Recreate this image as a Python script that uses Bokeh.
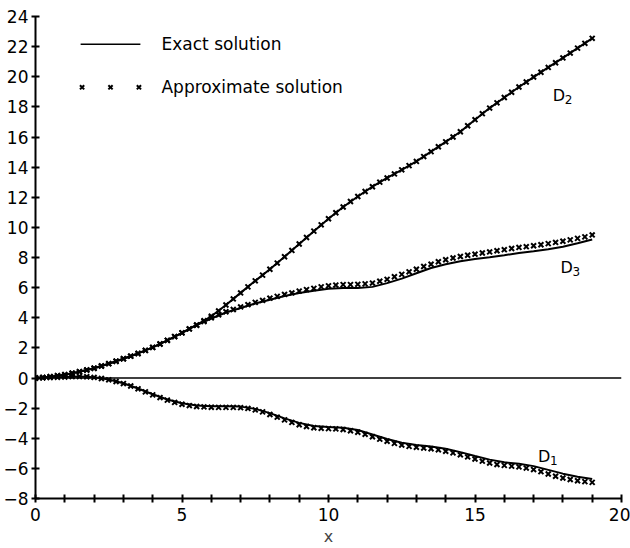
import numpy as np
from bokeh.plotting import figure
from bokeh.models import Range1d, FixedTicker, Span, Label
from bokeh.embed import file_html
from bokeh.resources import INLINE

# ---- data ----
X_EXACT = np.arange(0, 19.001, 0.5)
X_APPROX = np.arange(0, 19.001, 0.25)

D1_EXACT = [0, 0.03, 0.07, 0.1, 0.05, -0.1, -0.35, -0.7, -1.08, -1.43,
            -1.68, -1.83, -1.88, -1.88, -1.9, -2.05, -2.33, -2.68, -2.98, -3.18,
            -3.25, -3.3, -3.45, -3.75, -4.05, -4.3, -4.45, -4.55, -4.7, -4.92,
            -5.18, -5.42, -5.6, -5.7, -5.85, -6.1, -6.35, -6.55, -6.7]
D2_EXACT = [0, 0.08, 0.22, 0.42, 0.65, 0.95, 1.28, 1.63, 2.03, 2.5,
            3.0, 3.52, 4.1, 4.85, 5.65, 6.45, 7.22, 8.05, 8.9, 9.75,
            10.57, 11.35, 12.05, 12.7, 13.28, 13.82, 14.38, 15.03, 15.68, 16.35,
            17.15, 17.92, 18.62, 19.32, 19.98, 20.62, 21.25, 21.9, 22.55]
D3_EXACT = [0, 0.08, 0.22, 0.42, 0.65, 0.95, 1.28, 1.63, 2.03, 2.5,
            3.0, 3.52, 3.95, 4.35, 4.65, 4.95, 5.2, 5.45, 5.65, 5.8,
            5.92, 5.97, 5.97, 6.05, 6.3, 6.6, 6.95, 7.3, 7.55, 7.75,
            7.9, 8.02, 8.15, 8.3, 8.42, 8.55, 8.72, 8.95, 9.2]

D1_APPROX = [0, 0.01, 0.03, 0.05, 0.07, 0.09, 0.1, 0.08, 0.04,
             -0.03, -0.12, -0.23, -0.37, -0.53, -0.72, -0.92, -1.12,
             -1.3, -1.47, -1.62, -1.74, -1.83, -1.89, -1.92, -1.94,
             -1.95, -1.95, -1.95, -1.97, -2.02, -2.12, -2.25, -2.42,
             -2.6, -2.78, -2.95, -3.1, -3.22, -3.3, -3.34, -3.36,
             -3.38, -3.42, -3.5, -3.6, -3.74, -3.9, -4.06, -4.2,
             -4.34, -4.45, -4.54, -4.6, -4.65, -4.7, -4.77, -4.86,
             -4.97, -5.1, -5.24, -5.38, -5.52, -5.64, -5.74, -5.8,
             -5.85, -5.9, -5.98, -6.08, -6.22, -6.37, -6.52, -6.64,
             -6.74, -6.82, -6.88, -6.93]
D2_APPROX = [0, 0.03, 0.08, 0.15, 0.22, 0.32, 0.42, 0.53, 0.65, 0.8,
             0.95, 1.11, 1.28, 1.45, 1.63, 1.83, 2.03, 2.26, 2.5, 2.75, 3.0,
             3.26, 3.52, 3.8, 4.1, 4.45, 4.85,
             5.25, 5.65, 6.05, 6.45, 6.83, 7.22, 7.63, 8.05, 8.47, 8.9,
             9.33, 9.75, 10.17, 10.57, 10.97, 11.35, 11.72, 12.05, 12.38, 12.7,
             13.0, 13.28, 13.55, 13.82, 14.1, 14.38, 14.7, 15.03, 15.35, 15.68,
             16.0, 16.35, 16.75, 17.15, 17.55, 17.92, 18.27, 18.62, 18.97, 19.32,
             19.65, 19.98, 20.3, 20.62, 20.93, 21.25, 21.57, 21.9, 22.22, 22.55]
D3_APPROX = [0, 0.03, 0.08, 0.15, 0.22, 0.32, 0.42, 0.53, 0.65, 0.8,
             0.95, 1.11, 1.28, 1.45, 1.63, 1.83, 2.03, 2.26, 2.5, 2.75, 3.0,
             3.26, 3.5, 3.75, 4.0,
             4.2, 4.4, 4.55, 4.72, 4.87, 5.02, 5.15, 5.3,
             5.42, 5.55, 5.65, 5.77, 5.87, 5.95, 6.05, 6.12,
             6.17, 6.2, 6.2, 6.22, 6.25, 6.3, 6.42, 6.55,
             6.72, 6.88, 7.05, 7.22, 7.4, 7.55, 7.72, 7.85,
             7.97, 8.07, 8.15, 8.22, 8.3, 8.37, 8.45, 8.52,
             8.6, 8.67, 8.72, 8.78, 8.85, 8.92, 9.0, 9.08,
             9.17, 9.27, 9.37, 9.5]

X_TICKS = list(range(0, 21))
X_TICK_LABELS = {0: "0", 5: "5", 10: "10", 15: "15", 20: "20"}
Y_TICKS = list(range(-8, 25, 2))
Y_TICK_LABELS = ["\u22128", "\u22126", "\u22124", "\u22122", "0", "2", "4", "6", "8",
                 "10", "12", "14", "16", "18", "20", "22", "24"]
SERIES_LETTER = "D"
SERIES_SUBSCRIPTS = ["1", "2", "3"]
LEGEND_TEXTS = ["Exact solution", "Approximate solution"]

FONT = "DejaVu Sans"

p = figure(width=630, height=548, x_range=Range1d(0, 20), y_range=Range1d(-8, 24),
           output_backend="svg", toolbar_location=None,
           min_border_left=35, min_border_right=9, min_border_top=16, min_border_bottom=49)
p.outline_line_color = None
p.xgrid.visible = False
p.ygrid.visible = False
p.background_fill_color = "white"
p.border_fill_color = "white"

for ax in (p.xaxis[0], p.yaxis[0]):
    ax.axis_line_width = 2
    ax.axis_line_color = "black"
    ax.major_tick_line_width = 2
    ax.major_tick_line_color = "black"
    ax.major_tick_in = 4
    ax.major_tick_out = 4
    ax.minor_tick_line_color = None
    ax.major_label_text_font = FONT
    ax.major_label_text_font_size = "17px"
    ax.major_label_text_color = "black"

p.xaxis[0].ticker = FixedTicker(ticks=X_TICKS)
p.xaxis[0].major_label_overrides = {t: X_TICK_LABELS.get(t, "") for t in X_TICKS}
p.xaxis[0].major_label_standoff = 5
p.xaxis[0].axis_label = "x"
p.xaxis[0].axis_label_text_font = FONT
p.xaxis[0].axis_label_text_font_style = "normal"
p.xaxis[0].axis_label_text_font_size = "16px"
p.xaxis[0].axis_label_standoff = 3

p.yaxis[0].ticker = FixedTicker(ticks=Y_TICKS)
p.yaxis[0].major_label_overrides = {t: s for t, s in zip(Y_TICKS, Y_TICK_LABELS)}
p.yaxis[0].major_label_standoff = 3

# zero line (exact solution, y = 0)
p.add_layout(Span(location=0, dimension="width", line_color="black", line_width=1.5))

for y_ex, y_ap in ((D1_EXACT, D1_APPROX), (D2_EXACT, D2_APPROX), (D3_EXACT, D3_APPROX)):
    p.line(X_EXACT, y_ex, line_color="black", line_width=2)
    p.scatter(X_APPROX, y_ap, marker="x", size=7, line_color="black", line_width=2)

# curve labels: "D" with a subscript digit
label_pos = [(17.15, -5.2), (17.65, 18.75), (17.92, 7.36)]
for sub, (lx, ly) in zip(SERIES_SUBSCRIPTS, label_pos):
    p.add_layout(Label(x=lx, y=ly, text=SERIES_LETTER, text_font=FONT, text_font_size="16px",
                       text_color="black", text_baseline="alphabetic"))
    p.add_layout(Label(x=lx, y=ly, x_offset=12, y_offset=-4, text=sub, text_font=FONT,
                       text_font_size="12px", text_color="black", text_baseline="alphabetic"))

# legend
p.line([1.54, 3.58], [22.15, 22.15], line_color="black", line_width=1.5)
p.scatter([1.59, 2.56, 3.53], [19.3, 19.3, 19.3], marker="x", size=6,
          line_color="black", line_width=2)
p.add_layout(Label(x=4.3, y=22.15, text=LEGEND_TEXTS[0], text_font=FONT,
                   text_font_size="17px", text_baseline="middle", text_color="black"))
p.add_layout(Label(x=4.3, y=19.3, text=LEGEND_TEXTS[1], text_font=FONT,
                   text_font_size="17px", text_baseline="middle", text_color="black"))

open("out.html", "w").write(file_html(p, INLINE))
